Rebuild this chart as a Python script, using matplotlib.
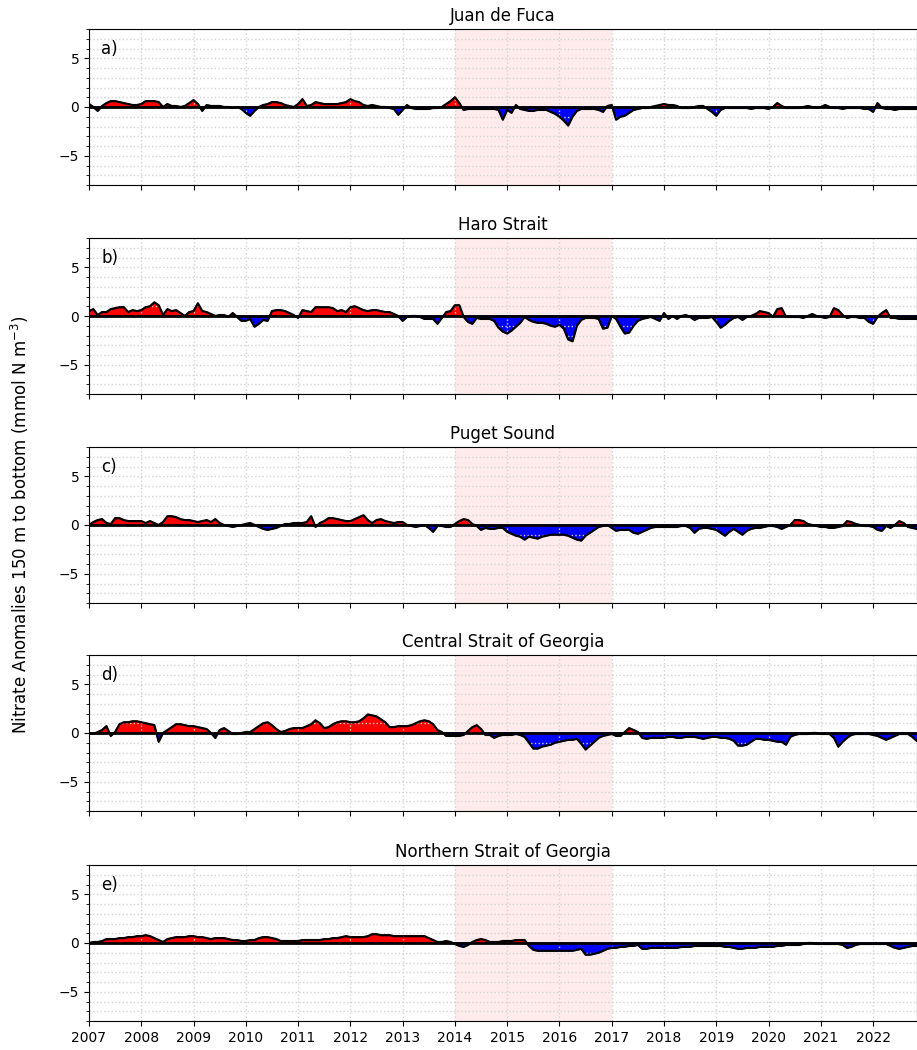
import numpy as np
import matplotlib
matplotlib.use("Agg")
import matplotlib.pyplot as plt
from matplotlib.ticker import MultipleLocator

# monthly anomalies, Jan 2007 .. Nov 2022 (one row per year)
juan_de_fuca = [
    0.3, 0.0, -0.4, 0.1, 0.4, 0.6, 0.6, 0.5, 0.4, 0.3, 0.2, 0.2,
    0.3, 0.6, 0.6, 0.6, 0.5, 0.0, 0.3, 0.1, 0.1, 0.0, 0.1, 0.4,
    0.7, 0.3, -0.4, 0.2, 0.1, 0.1, 0.1, 0.0, 0.0, -0.1, 0.0, -0.2,
    -0.6, -0.9, -0.4, 0.0, 0.2, 0.3, 0.5, 0.5, 0.4, 0.2, 0.1, 0.0,
    0.3, 0.8, 0.1, 0.2, 0.5, 0.4, 0.3, 0.3, 0.3, 0.3, 0.4, 0.5,
    0.8, 0.6, 0.5, 0.2, 0.1, 0.2, 0.1, 0.0, 0.0, -0.1, -0.2, -0.8,
    -0.3, 0.2, -0.1, -0.2, -0.2, -0.2, -0.2, -0.1, -0.1, 0.0, 0.3, 0.6,
    1.0, 0.4, -0.3, -0.2, -0.2, -0.2, -0.2, -0.2, -0.2, -0.2, -0.3, -1.3,
    -0.3, -0.6, 0.2, -0.2, -0.3, -0.4, -0.4, -0.3, -0.3, -0.3, -0.5, -0.7,
    -1.0, -1.4, -1.9, -1.0, -0.4, -0.2, -0.2, -0.2, -0.2, -0.3, -0.5, 0.1,
    0.2, -1.3, -1.0, -0.9, -0.6, -0.3, -0.2, -0.1, -0.1, 0.0, 0.1, 0.2,
    0.3, 0.2, 0.2, 0.1, -0.1, -0.1, -0.1, 0.0, 0.1, 0.1, -0.2, -0.5,
    -0.9, -0.3, -0.1, -0.1, -0.1, -0.1, -0.1, -0.1, -0.2, -0.1, -0.1, -0.1,
    -0.2, 0.0, 0.4, 0.1, -0.1, -0.1, -0.1, -0.1, 0.0, 0.1, 0.0, -0.1,
    0.0, 0.2, 0.0, -0.1, -0.1, -0.2, -0.1, -0.1, -0.1, -0.1, -0.2, -0.2,
    -0.5, 0.4, -0.1, -0.2, -0.2, -0.3, -0.2, -0.2, -0.2, -0.2, -0.2,
]

haro_strait = [
    0.5, 0.7, 0.1, 0.4, 0.4, 0.7, 0.8, 0.9, 0.9, 0.4, 0.6, 0.5,
    0.6, 0.9, 1.0, 1.4, 1.1, 0.1, 0.7, 0.5, 0.6, 0.3, 0.0, 0.4,
    0.5, 1.3, 0.5, 0.4, 0.2, 0.0, 0.1, 0.1, -0.1, 0.3, -0.1, -0.5,
    -0.5, -0.3, -1.1, -0.8, -0.4, -0.5, 0.5, 0.6, 0.6, 0.5, 0.3, 0.1,
    -0.2, 0.6, 0.5, 0.4, 0.9, 0.9, 0.9, 0.9, 0.8, 0.5, 0.6, 0.4,
    0.9, 1.0, 0.8, 0.6, 0.5, 0.6, 0.6, 0.5, 0.4, 0.4, 0.2, 0.0,
    -0.5, -0.1, 0.0, 0.0, -0.1, -0.3, -0.3, -0.3, -0.8, -0.2, 0.4, 0.5,
    1.1, 1.1, -0.1, -0.6, -0.8, -0.2, -0.3, -0.3, -0.3, -0.5, -1.2, -1.6,
    -1.8, -1.5, -1.1, -0.7, -0.1, -0.4, -0.6, -0.7, -0.7, -0.8, -1.0, -1.1,
    -0.9, -1.3, -2.4, -2.6, -1.0, -0.4, -0.2, -0.2, -0.2, -0.3, -1.3, -1.2,
    0.0, -0.3, -1.1, -1.8, -1.7, -1.0, -0.5, -0.3, -0.2, -0.1, -0.3, -0.5,
    0.3, -0.3, 0.0, -0.3, 0.0, 0.1, -0.1, -0.4, -0.2, -0.2, -0.2, -0.1,
    -0.6, -1.2, -0.9, -0.5, -0.2, -0.1, -0.4, -0.1, 0.0, 0.2, 0.5, 0.4,
    0.3, -0.1, 0.7, 0.8, -0.1, -0.1, -0.1, -0.1, -0.2, 0.0, 0.2, 0.0,
    -0.1, -0.2, -0.1, 0.8, 0.6, 0.1, -0.2, -0.1, -0.1, -0.2, -0.2, -0.6,
    -0.8, -0.1, 0.3, 0.6, -0.2, -0.2, -0.3, -0.3, -0.3, -0.3, -0.3,
]

puget_sound = [
    0.0, 0.3, 0.5, 0.6, 0.2, 0.1, 0.7, 0.7, 0.5, 0.4, 0.4, 0.4,
    0.4, 0.2, 0.4, 0.2, 0.0, 0.3, 0.9, 0.9, 0.8, 0.6, 0.5, 0.5,
    0.4, 0.3, 0.4, 0.5, 0.3, 0.6, 0.2, 0.0, -0.1, -0.2, -0.1, 0.0,
    0.1, 0.2, 0.0, -0.2, -0.4, -0.5, -0.4, -0.3, -0.1, 0.1, 0.1, 0.2,
    0.2, 0.2, 0.3, 0.9, -0.2, 0.2, 0.4, 0.7, 0.7, 0.6, 0.5, 0.4,
    0.4, 0.6, 0.8, 1.0, 0.5, 0.2, 0.5, 0.6, 0.4, 0.3, 0.2, 0.3,
    0.3, 0.0, -0.1, -0.2, -0.1, 0.0, -0.3, -0.7, -0.1, -0.1, -0.2, -0.2,
    0.1, 0.4, 0.6, 0.5, 0.1, -0.1, -0.5, -0.3, -0.4, -0.4, -0.3, -0.3,
    -0.7, -0.9, -1.1, -1.2, -1.5, -1.2, -1.3, -1.4, -1.2, -1.1, -1.0, -1.0,
    -1.0, -1.0, -1.1, -1.3, -1.5, -1.6, -1.1, -0.8, -0.5, -0.2, -0.1, 0.0,
    -0.3, -0.6, -0.5, -0.5, -0.5, -0.8, -0.9, -0.7, -0.5, -0.3, -0.2, -0.2,
    -0.2, -0.2, -0.2, -0.2, -0.1, -0.1, -0.3, -0.8, -0.4, -0.3, -0.3, -0.4,
    -0.5, -0.8, -1.1, -0.7, -0.4, -0.7, -1.0, -0.6, -0.4, -0.3, -0.3, -0.2,
    -0.1, -0.1, -0.2, -0.4, -0.2, 0.0, 0.5, 0.5, 0.4, 0.1, 0.0, -0.1,
    -0.2, -0.2, -0.3, -0.3, -0.2, -0.1, 0.4, 0.3, 0.1, 0.0, -0.1, -0.1,
    -0.2, -0.5, -0.6, -0.1, -0.3, 0.0, 0.4, 0.2, -0.2, -0.3, -0.4,
]

central_sog = [
    0.0, -0.1, 0.1, 0.3, 0.7, -0.3, 0.1, 0.9, 1.1, 1.1, 1.2, 1.2,
    1.1, 1.0, 0.9, 0.8, -0.9, 0.0, 0.3, 0.6, 0.9, 0.9, 0.8, 0.7,
    0.7, 0.6, 0.5, 0.4, 0.0, -0.5, 0.3, 0.5, 0.2, -0.1, -0.1, 0.0,
    0.1, 0.1, 0.4, 0.7, 1.0, 1.1, 0.8, 0.4, 0.1, 0.2, 0.4, 0.5,
    0.5, 0.5, 0.7, 0.9, 1.3, 1.0, 0.5, 0.6, 0.9, 1.1, 1.2, 1.2,
    1.1, 1.1, 1.2, 1.5, 1.9, 1.8, 1.7, 1.4, 1.1, 0.6, 0.6, 0.7,
    0.7, 0.7, 0.8, 1.0, 1.2, 1.3, 1.2, 0.9, 0.3, 0.1, -0.3, -0.3,
    -0.3, -0.3, -0.2, 0.2, 0.6, 0.8, 0.4, -0.2, -0.2, -0.5, -0.3, -0.2,
    -0.2, -0.2, -0.1, -0.2, -0.4, -1.0, -1.6, -1.6, -1.4, -1.3, -1.2, -1.0,
    -0.9, -0.8, -0.7, -0.7, -0.6, -1.1, -1.7, -1.3, -0.9, -0.5, -0.3, -0.2,
    -0.1, -0.3, -0.3, 0.1, 0.5, 0.3, 0.1, -0.5, -0.6, -0.5, -0.5, -0.5,
    -0.5, -0.4, -0.4, -0.5, -0.5, -0.4, -0.4, -0.4, -0.5, -0.6, -0.5, -0.4,
    -0.4, -0.5, -0.5, -0.6, -0.8, -1.3, -1.3, -1.2, -0.9, -0.6, -0.6, -0.7,
    -0.7, -0.8, -0.9, -0.9, -1.2, -0.4, -0.2, -0.1, -0.1, -0.1, 0.0, 0.0,
    -0.1, -0.1, -0.1, -0.5, -1.4, -0.9, -0.5, -0.2, -0.1, -0.1, -0.1, -0.1,
    -0.2, -0.3, -0.5, -0.7, -0.5, -0.3, -0.1, -0.1, -0.1, -0.4, -0.8,
]

northern_sog = [
    0.0, 0.1, 0.1, 0.2, 0.4, 0.4, 0.4, 0.5, 0.5, 0.6, 0.6, 0.7,
    0.7, 0.8, 0.7, 0.5, 0.3, 0.1, 0.4, 0.5, 0.6, 0.6, 0.6, 0.7,
    0.7, 0.6, 0.6, 0.5, 0.4, 0.5, 0.5, 0.5, 0.4, 0.3, 0.3, 0.2,
    0.2, 0.3, 0.3, 0.5, 0.6, 0.6, 0.5, 0.4, 0.2, 0.2, 0.2, 0.2,
    0.2, 0.3, 0.3, 0.3, 0.3, 0.3, 0.4, 0.4, 0.5, 0.5, 0.6, 0.7,
    0.6, 0.6, 0.6, 0.6, 0.7, 0.9, 0.9, 0.8, 0.8, 0.8, 0.7, 0.7,
    0.7, 0.7, 0.7, 0.7, 0.7, 0.7, 0.5, 0.3, 0.1, 0.1, 0.2, 0.1,
    -0.1, -0.3, -0.4, -0.2, 0.1, 0.3, 0.4, 0.3, 0.1, 0.1, 0.1, 0.2,
    0.2, 0.2, 0.3, 0.3, 0.3, -0.3, -0.7, -0.8, -0.8, -0.8, -0.8, -0.8,
    -0.8, -0.8, -0.8, -0.8, -0.7, -0.6, -1.2, -1.2, -1.1, -1.0, -0.8, -0.6,
    -0.5, -0.5, -0.4, -0.4, -0.3, -0.3, -0.2, -0.6, -0.6, -0.5, -0.5, -0.5,
    -0.5, -0.5, -0.5, -0.5, -0.4, -0.4, -0.4, -0.3, -0.3, -0.3, -0.3, -0.3,
    -0.3, -0.3, -0.4, -0.4, -0.5, -0.6, -0.6, -0.5, -0.5, -0.5, -0.4, -0.4,
    -0.4, -0.4, -0.3, -0.3, -0.2, -0.2, -0.2, -0.2, -0.1, 0.0, 0.0, -0.1,
    -0.1, -0.1, -0.1, -0.1, -0.1, -0.2, -0.5, -0.4, -0.2, -0.1, -0.1, -0.1,
    -0.1, -0.1, -0.1, -0.1, -0.3, -0.5, -0.6, -0.5, -0.4, -0.3, -0.3,
]

titles = ["Juan de Fuca", "Haro Strait", "Puget Sound",
          "Central Strait of Georgia", "Northern Strait of Georgia"]
panel_labels = ["a)", "b)", "c)", "d)", "e)"]
series = [juan_de_fuca, haro_strait, puget_sound, central_sog, northern_sog]
years = list(range(2007, 2023))
blob_start, blob_end = 2014, 2017

fig = plt.figure(figsize=(9.17, 10.5), dpi=100)

tops = [29, 238, 447, 655, 865]
ax_h = 156
for k, (vals, title, lab) in enumerate(zip(series, titles, panel_labels)):
    bottom = 1 - (tops[k] + ax_h) / 1050
    ax = fig.add_axes([89 / 917, bottom, 0.9995 - 89 / 917, ax_h / 1050])
    v = np.array(vals)
    t = 2007 + np.arange(len(v)) / 12.0

    ax.axvspan(blob_start, blob_end, color="red", alpha=0.08, lw=0)
    ax.fill_between(t, v, 0, where=v >= 0, interpolate=True, color="red")
    ax.fill_between(t, v, 0, where=v <= 0, interpolate=True, color="blue")
    ax.plot(t, v, color="k", lw=1.6)
    ax.axhline(0, color="k", lw=2)

    ax.set_xlim(2007, 2022.83)
    ax.set_ylim(-8, 8)
    ax.set_yticks([-5, 0, 5])
    ax.yaxis.set_minor_locator(MultipleLocator(1))
    ax.set_xticks(years)
    ax.grid(True, which="both", color="lightgray", linestyle=":", lw=1)
    # grid above the fills, under the lines
    ax.set_axisbelow("line")
    ax.tick_params(labelsize=10)
    if k < 4:
        ax.set_xticklabels([])
    else:
        ax.set_xticklabels([str(y) for y in years])
    ax.set_title(title, fontsize=12)
    ax.text(0.015, 0.87, lab, transform=ax.transAxes, fontsize=12, va="center")

fig.text(20 / 917, 0.5, "Nitrate Anomalies 150 m to bottom (mmol N m$^{-3}$)",
         rotation=90, va="center", ha="center", fontsize=12)

fig.savefig("out.png", dpi=100)
